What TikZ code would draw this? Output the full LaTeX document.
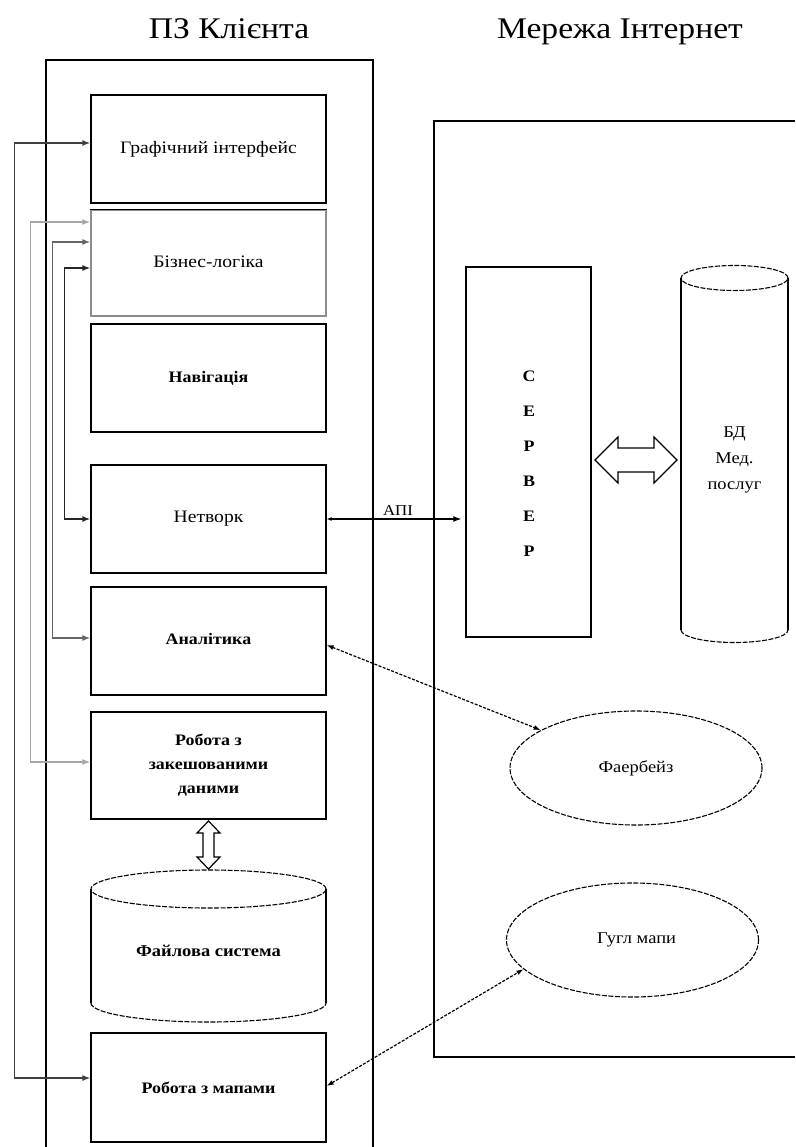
\documentclass[tikz,border=0pt]{standalone}
\usepackage{fontspec}
\setmainfont{Liberation Serif}[FakeStretch=1.12]
\usetikzlibrary{arrows.meta,shapes.geometric}

\begin{document}
\begin{tikzpicture}[x=1pt,y=-1pt,
  box/.style={draw, line width=1.2pt, minimum width=235pt, inner sep=0pt,
              align=center, font=\fontsize{17.5}{24}\selectfont},
  boldbox/.style={box, font=\fontsize{16}{24}\selectfont\bfseries},
  title/.style={font=\fontsize{30}{34}\selectfont, inner sep=0pt, anchor=base},
  oval/.style={ellipse, draw, line width=1.1pt, dash pattern=on 5pt off 1.5pt,
               minimum width=252pt, minimum height=114pt, inner sep=0pt,
               font=\fontsize{16.5}{20}\selectfont},
  dsh/.style={line width=1.1pt, dash pattern=on 5pt off 1.5pt},
  feed/.style={line width=1.4pt, {Latex[length=8pt,width=6pt]}-{Latex[length=8pt,width=6pt]}},
  web/.style={line width=1.2pt, dash pattern=on 3pt off 1.5pt,
              {Latex[length=7pt,width=5pt]}-{Latex[length=7pt,width=5pt]}},
  hollow/.style={draw, line width=1.2pt, fill=white, line join=miter}
]
\useasboundingbox (0,0) rectangle (795,1147);

% headings
\node[title] (tclient) at (229,39) {ПЗ Клієнта};
\node[title] (tnet) at (620,39) {Мережа Інтернет};

% client frame (open at the bottom)
\draw[line width=2.8pt] (46,1147) -- (46,60) -- (373,60) -- (373,1147);
% internet frame (open to the right)
\draw[line width=2pt] (795,121) -- (434,121) -- (434,1057) -- (795,1057);

% client modules
\node[box, minimum height=108pt] (gui) at (208.5,149) {\raisebox{2pt}{Графічний інтерфейс}};
\node[box, draw=black!45, minimum height=106pt] (biz) at (208.5,263) {\raisebox{3pt}{Бізнес-логіка}};
\draw[line width=1.4pt] (biz.north west) -- (biz.north east);
\node[boldbox, minimum height=108pt] (nav) at (208.5,378) {Навігація};
\node[box, minimum height=108pt] (net) at (208.5,519) {Нетворк};
\node[boldbox, minimum height=108pt] (ana) at (208.5,641) {\raisebox{5pt}{Аналітика}};
\node[boldbox, minimum height=107pt] (cache) at (208.5,765.5) {Робота з\\закешованими\\даними};
\node[boldbox, minimum height=109pt] (maps) at (208.5,1087.5) {Робота з мапами};

% file system store
\node[inner sep=0pt, minimum width=235pt, minimum height=152pt,
      font=\fontsize{16.5}{20}\selectfont\bfseries] (fs) at (208.5,946) {\raisebox{-22pt}{Файлова система}};
\draw[line width=1.1pt] (91,889) -- (91,1003) (326,889) -- (326,1003);
\draw[dsh] (208.5,889) ellipse [x radius=117.5pt, y radius=19pt];
\draw[dsh] (91,1003) arc[start angle=180, end angle=360, x radius=117.5pt, y radius=19pt];

% server
\node[draw, line width=1.4pt, minimum width=125pt, minimum height=370pt, inner sep=0pt] (srv) at (528.5,452) {};
\node[align=center, inner sep=0pt, font=\fontsize{16}{35}\selectfont\bfseries] (srvlbl) at (529,464) {С\\Е\\Р\\В\\Е\\Р};

% medical services database
\node[inner sep=0pt, minimum width=107pt, minimum height=378pt] (db) at (734.5,454) {};
\draw[line width=1.1pt] (681,278) -- (681,630) (788,278) -- (788,630);
\draw[dsh] (734.5,278) ellipse [x radius=53.5pt, y radius=12.5pt];
\draw[dsh] (681,630) arc[start angle=180, end angle=360, x radius=53.5pt, y radius=12.5pt];
\node[align=center, inner sep=0pt, font=\fontsize{16.5}{26}\selectfont] (dblbl) at (734.5,460) {БД\\Мед.\\послуг};

% cloud services
\node[oval] (fire) at (636,768) {\raisebox{3pt}{Фаербейз}};
\node[oval] (gmap) at (632.5,940) {\hspace*{8pt}Гугл мапи};

% server <-> database (hollow double arrow)
\draw[hollow] (595,460) -- (618,437) -- (618,448) -- (654,448) -- (654,437) -- (677,460)
  -- (654,483) -- (654,472) -- (618,472) -- (618,483) -- cycle;

% cache <-> file system (hollow double arrow)
\draw[hollow] (208.5,821) -- (197,833) -- (203,833) -- (203,857) -- (197,857) -- (208.5,869)
  -- (220,857) -- (214,857) -- (214,833) -- (220,833) -- cycle;

% API link
\draw[line width=1.1pt, {Latex[length=5pt,width=4pt]}-{Latex[length=8pt,width=6pt]}]
  (net.east) -- node[above=3pt, font=\fontsize{15}{18}\selectfont, inner sep=0pt, xshift=4pt] (api) {АПІ} ([xshift=-4pt]srv.west |- net.east);

% links between modules
\draw[feed, draw=black!75] ([yshift=6pt]gui.west) -- ++(-76,0) |- ([yshift=9.5pt]maps.west);
\draw[feed, draw=black!35] ([yshift=41pt]biz.west) -- ++(-60,0) |- ([yshift=3.5pt]cache.west);
\draw[feed, draw=black!60] ([yshift=21pt]biz.west) -- ++(-38,0) |- ([yshift=3pt]ana.west);
\draw[feed, draw=black!85] ([yshift=-5pt]biz.west) -- ++(-26,0) |- (net.west);

% links to the cloud services
\draw[web] ([yshift=-4pt]ana.east) -- (fire);
\draw[web] ([yshift=1.5pt]maps.east) -- (gmap.195);
\end{tikzpicture}
\end{document}
